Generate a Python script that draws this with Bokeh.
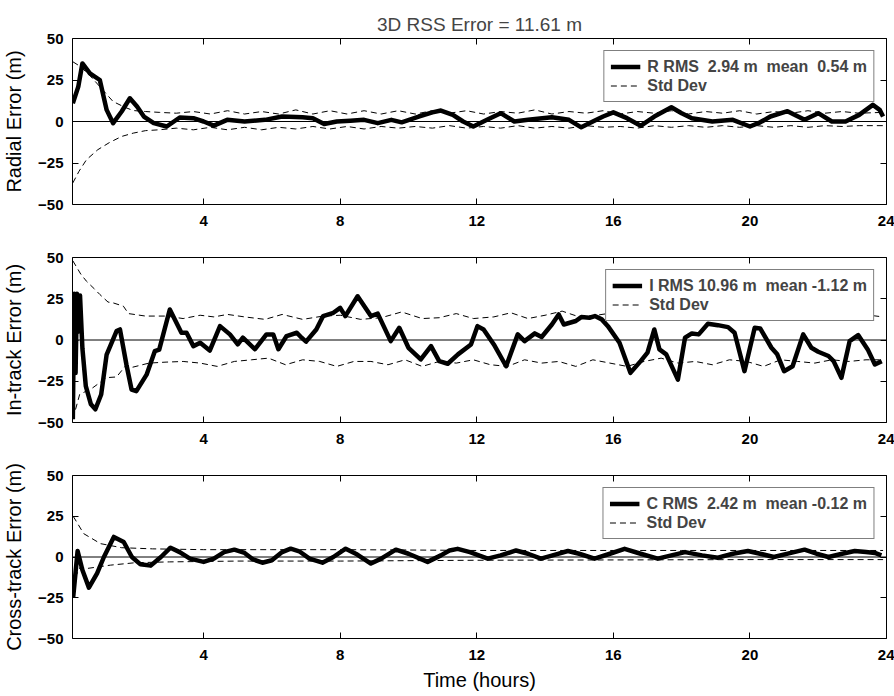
from bokeh.plotting import figure
from bokeh.models import LinearAxis, FixedTicker, Span, Legend, LegendItem, Range1d, Title
from bokeh.layouts import column
from bokeh.embed import file_html
from bokeh.resources import INLINE

X_TICKS = [4, 8, 12, 16, 20, 24]
Y_TICKS = [-50, -25, 0, 25, 50]
TITLE = "3D RSS Error = 11.61 m"
X_LABEL = "Time (hours)"

# Radial
rad_t = [0.17, 0.33, 0.45, 0.67, 0.96, 1.16, 1.35, 1.6, 1.84, 2.05, 2.25, 2.54, 2.92, 3.3, 3.7, 4.0,
         4.3, 4.69, 5.2, 5.8, 6.3, 6.9, 7.2, 7.53, 7.9, 8.3, 8.7, 9.1, 9.5, 9.8, 10.3, 10.7, 10.95,
         11.3, 11.6, 11.9, 12.3, 12.7, 13.1, 13.5, 14.2, 14.7, 15.06, 15.4, 15.7, 16.0, 16.4, 16.8,
         17.2, 17.7, 18.0, 18.3, 18.9, 19.5, 20.0, 20.3, 20.6, 21.1, 21.6, 22.0, 22.4, 22.8, 23.2,
         23.6, 23.8, 23.9]
rad_v = [11, 21, 35, 29, 25, 7, -1, 6, 14, 9, 3, -1, -3, 2.4, 2, 0,
         -2.5, 1, 0, 1, 3, 2.5, 2, -1.5, 0, 0.5, 1, -1, 1, -0.5, 3, 5.5, 6.6,
         4, 0, -3, 1, 5, 0, 1, 2.5, 1, -3.5, 0, 3, 5.5, 2, -2.6,
         3, 8.6, 5, 2, 0, 1, -3, -0.5, 3, 6.2, 1, 5, 0, 0, 4,
         10, 7, 3]
rad_up_t = [0.17, 0.4, 0.7, 0.96, 1.35, 1.7, 1.94, 2.3, 2.7, 3.2, 3.7, 4.2, 4.7, 5.2, 5.7, 6.2, 6.7,
            7.2, 7.7, 8.2, 8.7, 9.2, 9.7, 10.2, 10.7, 11.2, 11.7, 12.2, 12.7, 13.2, 13.7, 14.2, 14.7,
            15.2, 15.7, 16.2, 16.7, 17.2, 17.7, 18.2, 18.7, 19.2, 19.7, 20.2, 20.7, 21.2, 21.7, 22.2,
            22.7, 23.2, 23.9]
rad_up_v = [36, 33, 27, 21, 12, 8.5, 6.6, 6, 5.5, 5, 6, 4.5, 6.5, 4.5, 6, 4.5, 7,
            4.5, 6.5, 4.5, 6.5, 4.5, 6.5, 4.5, 6.5, 5, 6.5, 4.5, 6, 5, 7, 4.5, 6,
            5, 6.5, 4.5, 6, 5, 6.5, 4.5, 6, 5, 6.5, 4.5, 6, 5, 6.5, 5,
            6, 5, 5.5]
rad_lo_t = [0.17, 0.35, 0.57, 0.9, 1.24, 1.6, 1.94, 2.3, 2.7, 3.2, 3.7, 4.2, 4.7, 5.2, 5.7, 6.2,
            6.7, 7.2, 7.7, 8.2, 8.7, 9.2, 9.7, 10.2, 10.7, 11.2, 11.7, 12.2, 12.7, 13.2, 13.7, 14.2,
            14.7, 15.2, 15.7, 16.2, 16.7, 17.2, 17.7, 18.2, 18.7, 19.2, 19.7, 20.2, 20.7, 21.2, 21.7,
            22.2, 22.7, 23.2, 23.9]
rad_lo_v = [-37, -30, -23, -17, -12.7, -9, -7, -5.5, -5, -4, -5, -3.5, -5, -3.5, -5, -3.5,
            -4.5, -3, -4.5, -3, -4.5, -3, -4, -3, -4, -2.5, -4, -3, -4, -2.5, -4, -3,
            -4, -2.5, -3.5, -3, -4, -2.5, -3.5, -2.5, -3.5, -2.5, -3.5, -2.5, -3.5, -2.5, -3.5,
            -2.5, -3, -2.5, -2.5]

# In-track
int_t = [0.17, 0.21, 0.25, 0.29, 0.33, 0.38, 0.45, 0.55, 0.7, 0.83, 1.0, 1.16, 1.45, 1.55, 1.74,
         1.89, 2.03, 2.33, 2.57, 2.7, 3.01, 3.35, 3.5, 3.7, 3.9, 4.18, 4.48, 4.77, 5.0, 5.15, 5.5,
         5.84, 6.04, 6.19, 6.43, 6.73, 6.87, 7.0, 7.3, 7.5, 7.8, 8.0, 8.15, 8.51, 8.9, 9.1, 9.48,
         9.73, 10.0, 10.36, 10.66, 10.9, 11.15, 11.45, 11.83, 12.02, 12.2, 12.5, 12.86, 13.2, 13.4,
         13.7, 13.9, 14.2, 14.4, 14.55, 14.9, 15.06, 15.3, 15.46, 15.66, 15.84, 16.18, 16.5, 16.8,
         17.0, 17.2, 17.35, 17.55, 17.89, 18.1, 18.3, 18.5, 18.77, 19.06, 19.36, 19.55, 19.84,
         20.14, 20.3, 20.63, 20.8, 21.0, 21.25, 21.56, 21.8, 22.0, 22.3, 22.45, 22.68, 22.92,
         23.17, 23.45, 23.66, 23.86]
int_v = [-48, 28, -20, 28, 5, 27, -5, -28, -39, -42, -33, -8.8, 5.4, 6.4, -15,
         -30, -31, -21, -6.8, -5.8, 18.5, 4.4, 4.4, -3.7, -1.7, -6.4, 8.4, 3.4, -2.6, 1.4, -5.6,
         3.4, 3.4, -5.6, 2.4, 4.4, 1.4, -1, 6.4, 14.5, 16.5, 19.5, 14.5, 26.5, 14.5, 16, -0.7,
         7.4, -4.7, -11.8, -3.7, -12.8, -14.4, -8.7, -2.7, 8.4, 6.4, -2.7, -15.9, 3.4, -0.7,
         4, 1.8, 9.4, 15.5, 9.4, 11.5, 13.9, 13.5, 14.5, 12.5, 8.4, -1.7, -19.9, -12.8,
         -7.7, 6.4, -5.7, -8.7, -24, 1.4, 4, 3.4, 9.8, 9, 7.8, 4.4, -18.9,
         7.4, 7, -4.7, -8.7, -18.9, -15.9, 3.4, -4.7, -7.1, -9.7, -12.8, -22.9, -0.7,
         3, -5.7, -14.8, -12.8]
int_up_t = [0.17, 0.4, 0.57, 0.8, 0.96, 1.2, 1.35, 1.65, 1.8, 2.3, 2.9, 3.4, 3.9, 4.3, 4.7, 5.2,
            5.8, 6.3, 6.9, 7.5, 8.0, 8.6, 9.2, 9.8, 10.4, 10.9, 11.4, 11.9, 12.5, 13.0, 13.5, 14.0,
            14.5, 15.0, 15.5, 16.0, 16.5, 17.0, 17.5, 18.0, 18.5, 19.0, 19.5, 20.0, 20.5, 21.0,
            21.5, 22.0, 22.5, 23.0, 23.5, 23.9]
int_up_v = [48, 40, 35.6, 31, 27.6, 23, 22.5, 20.5, 16, 14.5, 14.5, 13, 15, 14, 15.5, 14,
            12.5, 15.5, 12.5, 14.5, 15, 12.5, 13.5, 17, 13, 13.5, 16, 13, 14, 16.5, 13, 15,
            17.5, 14, 15, 16.5, 13, 14.5, 16, 13, 15, 13.5, 16, 13, 15, 12.5,
            15, 13, 14.5, 13.5, 15, 14]
int_lo_t = [0.17, 0.37, 0.75, 1.16, 1.45, 1.74, 1.9, 2.4, 2.9, 3.4, 3.9, 4.4, 4.9, 5.4, 5.9, 6.4,
            6.9, 7.4, 7.9, 8.4, 8.9, 9.4, 9.9, 10.4, 10.9, 11.4, 11.9, 12.4, 12.9, 13.4, 13.9, 14.4,
            14.9, 15.4, 15.9, 16.4, 16.9, 17.4, 17.9, 18.4, 18.9, 19.4, 19.9, 20.4, 20.9, 21.4,
            21.9, 22.4, 22.9, 23.4, 23.9]
int_lo_v = [-48, -33, -29, -22.8, -22.4, -15, -16.6, -14, -13.4, -13, -14, -16, -13, -12, -11, -15,
            -12, -13, -16, -13, -13, -15, -12, -16, -13, -14, -12, -15, -16, -12, -14, -13,
            -16, -12, -14, -16, -13, -11, -14, -13, -15, -12, -13, -16, -12, -13,
            -14, -12, -13, -12, -12]

# Cross-track
crs_t = [0.18, 0.31, 0.45, 0.64, 0.88, 1.08, 1.37, 1.66, 1.9, 2.15, 2.45, 2.75, 3.03, 3.3, 3.6,
         4.0, 4.3, 4.6, 4.9, 5.2, 5.45, 5.72, 6.0, 6.3, 6.55, 6.8, 7.1, 7.48, 7.8, 8.16, 8.5, 8.9,
         9.2, 9.63, 10.0, 10.56, 10.95, 11.2, 11.44, 11.8, 12.32, 12.7, 13.15, 13.5, 13.88, 14.3,
         14.67, 15.0, 15.45, 15.9, 16.33, 16.8, 17.3, 17.7, 18.1, 18.6, 19.06, 19.5, 19.94, 20.3,
         20.7, 21.2, 21.6, 21.95, 22.3, 22.7, 23.07, 23.4, 23.66, 23.85]
crs_v = [-24.5, 3.7, -8, -18.8, -10, 0, 12.3, 9.2, 0, -4.5, -5.3, 0, 5.7, 3, -1,
         -3, -1, 3, 4.5, 2.5, -1.5, -3.5, -2, 3, 5.1, 3.5, -1, -3.5, 0, 5.1, 1.5, -4,
         -1, 4.5, 2, -3, 1, 4, 5, 3, -1, 1, 4, 2, -1, 1.5,
         3.7, 2, -1, 2, 5, 2, -1, 1, 3, 1, -0.4, 2, 3.7, 2,
         0, 2.5, 4.5, 2, 0, 2, 3.7, 3, 2.5, 1]
crs_up_t = [0.18, 0.49, 0.98, 1.6, 2.5, 4, 6, 8, 10, 12, 14, 16, 18, 20, 22, 23.9]
crs_up_v = [25, 14.3, 8.2, 5.7, 5, 4.5, 4.5, 4.5, 4.3, 4, 4, 4, 4, 4, 4, 4]
crs_lo_t = [0.18, 0.25, 0.39, 0.6, 1.27, 2, 3, 5, 8, 12, 16, 20, 23.9]
crs_lo_v = [-25, -12, -6, -7, -5, -3.5, -3, -2.5, -2.5, -2, -1.8, -1.6, -1.6]

FONT = "Liberation Sans"


def mirror_axis(ticks):
    return LinearAxis(ticker=FixedTicker(ticks=ticks), major_tick_in=6, major_tick_out=0,
                      major_label_overrides={t: "" for t in ticks},
                      major_label_text_color=None, major_label_text_font_size="1px",
                      major_label_standoff=0, axis_line_color=None, minor_tick_line_color=None)


def panel(t, v, ut, uv, lt, lv, ylabel, leg, height, top, bottom, title=None, xlabel=None):
    p = figure(width=894, height=height, x_range=Range1d(0.16, 24), y_range=Range1d(-50, 50),
               output_backend="svg", toolbar_location=None,
               min_border_left=72, min_border_right=8, min_border_top=top, min_border_bottom=bottom)
    p.background_fill_color = "white"
    p.border_fill_color = "white"
    p.outline_line_color = "black"
    p.outline_line_width = 1
    p.xgrid.visible = False
    p.ygrid.visible = False
    if title:
        p.title = Title(text=title, align="center", text_font=FONT, text_font_size="19px",
                        text_font_style="normal", offset=0, standoff=8)
    for ax in p.xaxis:
        ax.ticker = FixedTicker(ticks=X_TICKS)
    for ax in p.yaxis:
        ax.ticker = FixedTicker(ticks=Y_TICKS)
    for ax in list(p.xaxis) + list(p.yaxis):
        ax.major_tick_in = 6
        ax.major_tick_out = 0
        ax.minor_tick_line_color = None
        ax.axis_line_color = None
        ax.major_label_text_font = FONT
        ax.major_label_text_font_size = "15px"
        ax.major_label_text_font_style = "bold"
        ax.major_label_text_color = "black"
        ax.axis_label_text_font = FONT
        ax.axis_label_text_font_size = "20px"
        ax.axis_label_text_font_style = "normal"
        ax.axis_label_text_color = "black"
    p.yaxis.axis_label = ylabel
    p.yaxis.major_label_standoff = 9
    p.yaxis.axis_label_standoff = 10
    p.xaxis.major_label_standoff = 11
    if xlabel:
        p.xaxis.axis_label = xlabel
        p.xaxis.axis_label_standoff = 6
    p.add_layout(mirror_axis(X_TICKS), "above")
    p.add_layout(mirror_axis(Y_TICKS), "right")
    p.add_layout(Span(location=0, dimension="width", line_color="black", line_width=1))
    up = p.line(ut, uv, line_color="black", line_width=1, line_dash="6 4")
    p.line(lt, lv, line_color="black", line_width=1, line_dash="6 4")
    main = p.line(t, v, line_color="black", line_width=4.5, line_join="round")
    lg = Legend(items=[LegendItem(label=leg, renderers=[main]),
                       LegendItem(label="Std Dev", renderers=[up])],
                location="top_right", margin=12, padding=6, spacing=0,
                label_text_font=FONT, label_text_font_size="16px", label_text_font_style="bold",
                label_height=19, glyph_height=19, glyph_width=30, label_standoff=7,
                border_line_color="black", border_line_width=1, background_fill_alpha=1)
    p.add_layout(lg)
    return p


p1 = panel(rad_t, rad_v, rad_up_t, rad_up_v, rad_lo_t, rad_lo_v, "Radial Error (m)",
           "R RMS  2.94 m  mean  0.54 m", 230, 38, 26, title=TITLE)
p2 = panel(int_t, int_v, int_up_t, int_up_v, int_lo_t, int_lo_v, "In-track Error (m)",
           "I RMS 10.96 m  mean -1.12 m", 230, 27, 38)
p3 = panel(crs_t, crs_v, crs_up_t, crs_up_v, crs_lo_t, crs_lo_v, "Cross-track Error (m)",
           "C RMS  2.42 m  mean -0.12 m", 236, 15, 58, xlabel=X_LABEL)

layout = column(p1, p2, p3, spacing=0)
open("out.html", "w").write(file_html(layout, INLINE))
